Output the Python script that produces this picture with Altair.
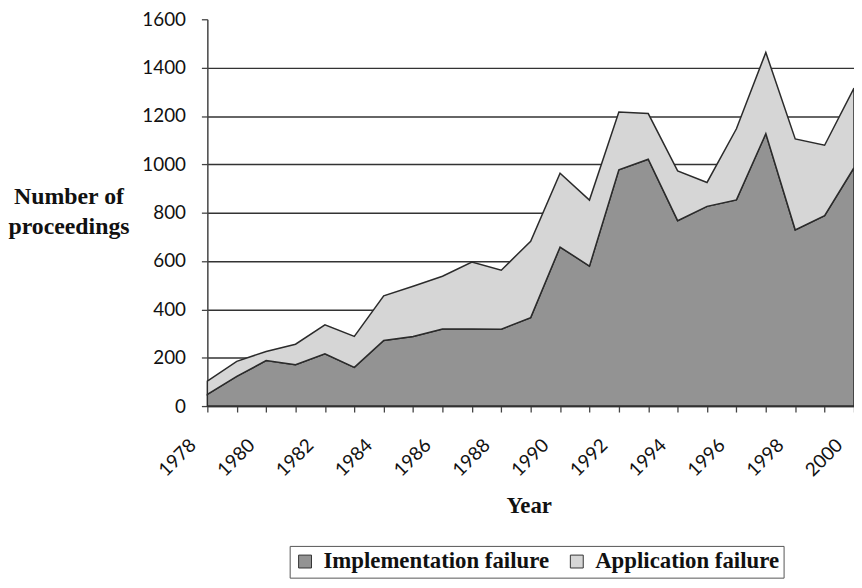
import altair as alt
import pandas as pd

years = list(range(1978, 2001))
implementation = [48, 123, 188, 171, 216, 160, 271, 288, 319, 319, 318, 366,
                  658, 579, 977, 1021, 767, 826, 853, 1127, 729, 788, 986]
application = [55, 62, 38, 85, 120, 128, 185, 208, 218, 277, 244, 316,
               305, 273, 239, 189, 206, 99, 294, 336, 376, 291, 329]
series_names = ["Implementation failure", "Application failure"]
y_ticks = [0, 200, 400, 600, 800, 1000, 1200, 1400, 1600]

rows = []
for k, (name, vals) in enumerate(zip(series_names, [implementation, application])):
    for yr, v in zip(years, vals):
        rows.append({"Year": yr, "series": name, "value": v, "ord": k})
df = pd.DataFrame(rows)

label_font = "Lato"
title_font = "Liberation Serif"

chart = alt.Chart(df).mark_area(
    stroke="#2b2b2b", strokeWidth=1.5, strokeJoin="miter", opacity=1
).encode(
    x=alt.X(
        "Year:Q",
        scale=alt.Scale(domain=[1978, 2000], nice=False, zero=False),
        axis=alt.Axis(
            values=years, format="d",
            labelExpr="datum.value % 2 == 0 ? datum.label : ''",
            labelAngle=315, labelAlign="right", labelBaseline="middle",
            labelPadding=30, labelOffset=-15, labelFont=label_font,
            labelFontSize=19, labelColor="#111", labelOverlap=False,
            labelFlush=False, labelBound=False,
            tickSize=6, tickColor="#444", tickWidth=1.3,
            domainColor="#444", domainWidth=1.5, grid=False,
            title="Year", titleFont=title_font, titleFontSize=23,
            titleFontWeight="bold", titleColor="#111",
            titleX=324, titleY=107, titleAlign="center",
            titleBaseline="alphabetic",
        ),
    ),
    y=alt.Y(
        "value:Q", stack="zero",
        scale=alt.Scale(domain=[0, 1600], nice=False),
        axis=alt.Axis(
            values=y_ticks, format="d", labelFont=label_font,
            labelFontSize=19, labelColor="#111", labelPadding=16,
            tickSize=6, tickColor="#444", tickWidth=1.3,
            domainColor="#444", domainWidth=1.5,
            grid=True, gridColor="#333333", gridWidth=1.5,
            gridOpacity={"condition": {"test": "datum.value === 1600", "value": 0}, "value": 1},
            title=["Number of", "proceedings"], titleFont=title_font,
            titleFontSize=24, titleFontWeight="bold", titleColor="#111",
            titleAngle=0, titleX=-140, titleY=186, titleAlign="center",
            titleBaseline="alphabetic", titleLineHeight=30,
        ),
    ),
    color=alt.Color(
        "series:N",
        scale=alt.Scale(domain=series_names, range=["#939393", "#d6d6d6"]),
        legend=alt.Legend(
            title=None, orient="none", legendX=83, legendY=531,
            direction="horizontal", symbolType="square", symbolSize=169,
            symbolStrokeColor="#333", symbolStrokeWidth=1,
            labelFont=title_font, labelFontSize=23, labelFontWeight="bold",
            labelColor="#111", labelOffset=7, columnPadding=16,
            labelLimit=400, padding=4, strokeColor="#555", fillColor="white",
        ),
    ),
    order=alt.Order("ord:Q", sort="ascending"),
).properties(
    width=652, height=390,
    autosize=alt.AutoSizeParams(type="none"),
    padding={"left": 201, "top": 9, "right": 0, "bottom": 174},
).configure_view(stroke=None)

chart.save("out.html", embed_options={"renderer": "svg", "actions": False})
